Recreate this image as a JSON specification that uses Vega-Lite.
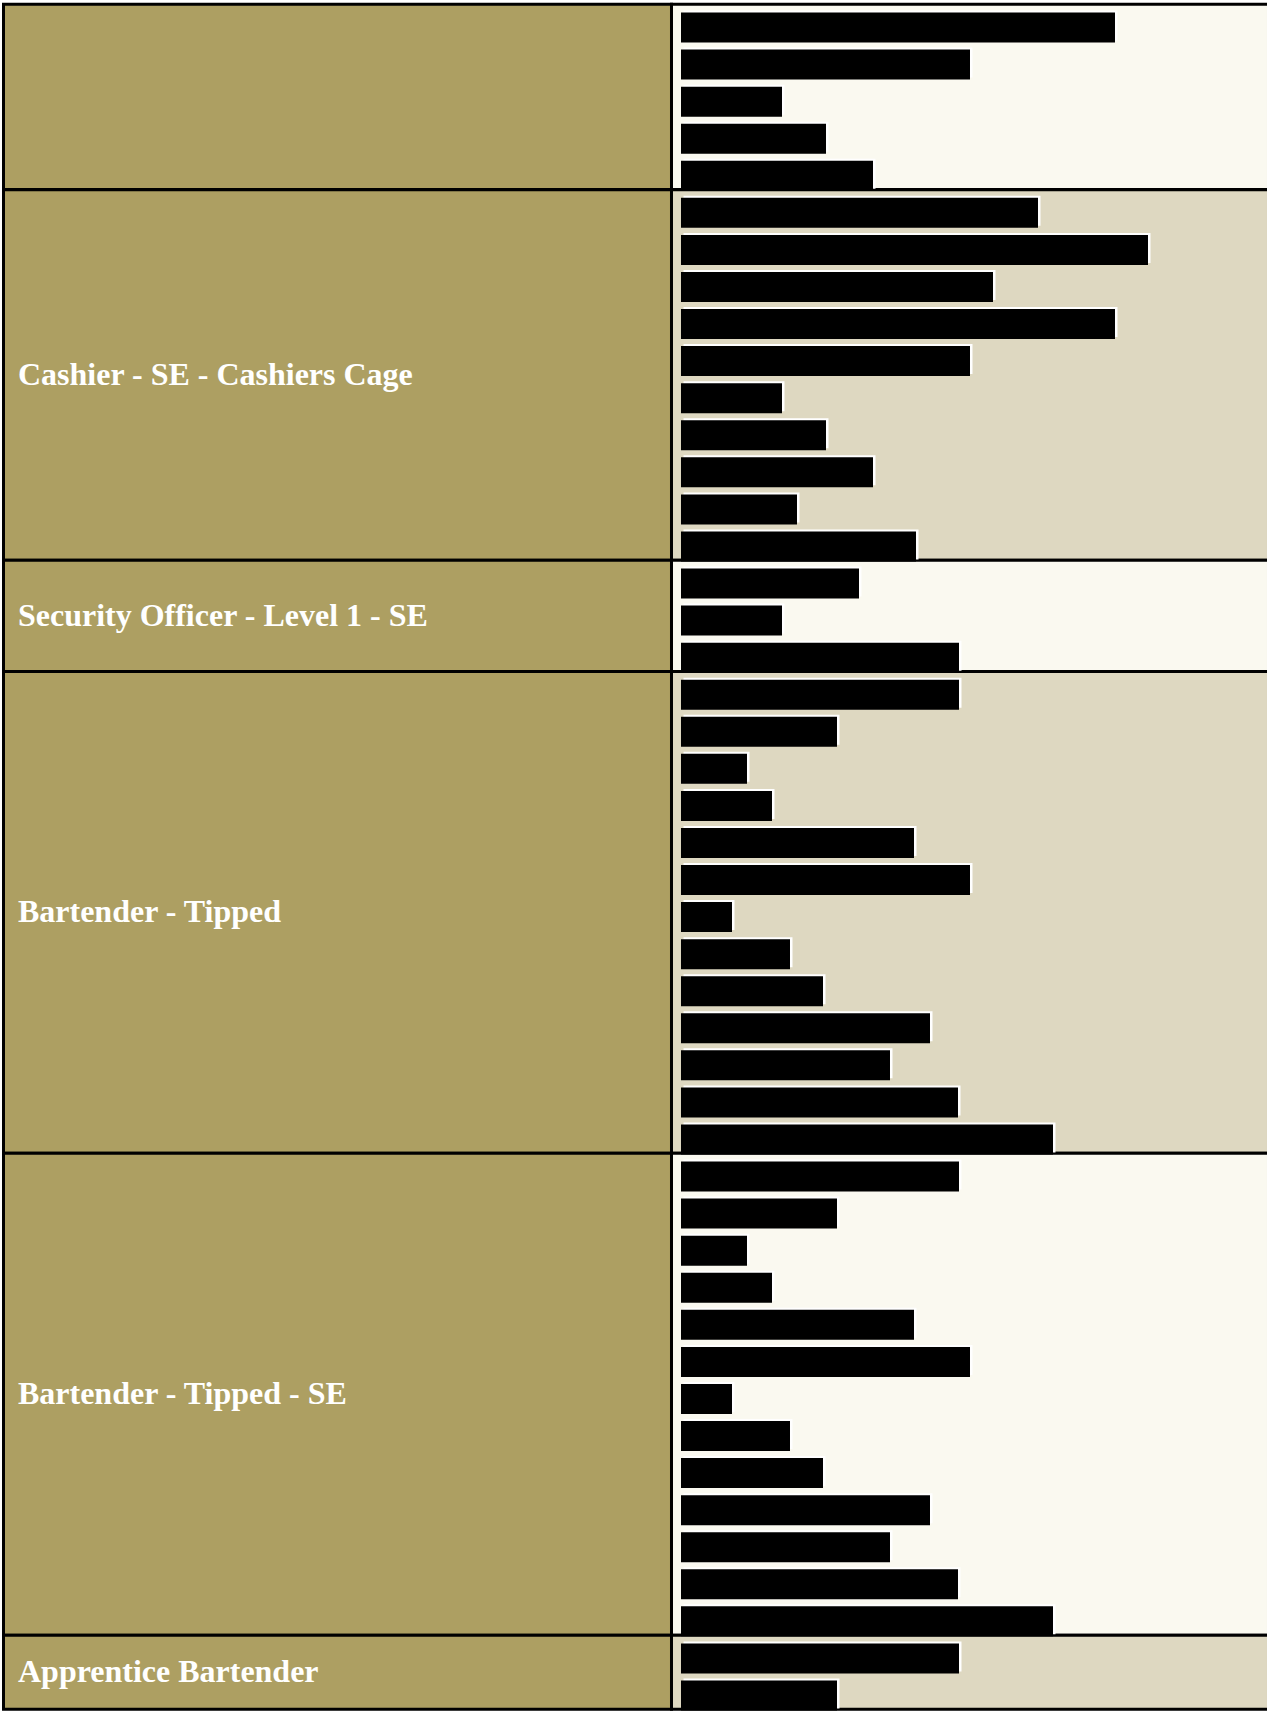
{
  "$schema": "https://vega.github.io/schema/vega-lite/v6.json",
  "padding": {"left": 1.5, "top": 2.3, "right": 0, "bottom": 0},
  "spacing": 0,
  "bounds": "flush",
  "background": "white",
  "data": {
    "values": [
      {"group": "", "row": 0, "value": 434},
      {"group": "", "row": 1, "value": 289},
      {"group": "", "row": 2, "value": 101},
      {"group": "", "row": 3, "value": 145},
      {"group": "", "row": 4, "value": 192},
      {"group": "Cashier - SE - Cashiers Cage", "row": 5, "value": 357},
      {"group": "Cashier - SE - Cashiers Cage", "row": 6, "value": 467},
      {"group": "Cashier - SE - Cashiers Cage", "row": 7, "value": 312},
      {"group": "Cashier - SE - Cashiers Cage", "row": 8, "value": 434},
      {"group": "Cashier - SE - Cashiers Cage", "row": 9, "value": 289},
      {"group": "Cashier - SE - Cashiers Cage", "row": 10, "value": 101},
      {"group": "Cashier - SE - Cashiers Cage", "row": 11, "value": 145},
      {"group": "Cashier - SE - Cashiers Cage", "row": 12, "value": 192},
      {"group": "Cashier - SE - Cashiers Cage", "row": 13, "value": 116},
      {"group": "Cashier - SE - Cashiers Cage", "row": 14, "value": 235},
      {"group": "Security Officer - Level 1 - SE", "row": 15, "value": 178},
      {"group": "Security Officer - Level 1 - SE", "row": 16, "value": 101},
      {"group": "Security Officer - Level 1 - SE", "row": 17, "value": 278},
      {"group": "Bartender - Tipped", "row": 18, "value": 278},
      {"group": "Bartender - Tipped", "row": 19, "value": 156},
      {"group": "Bartender - Tipped", "row": 20, "value": 66},
      {"group": "Bartender - Tipped", "row": 21, "value": 91},
      {"group": "Bartender - Tipped", "row": 22, "value": 233},
      {"group": "Bartender - Tipped", "row": 23, "value": 289},
      {"group": "Bartender - Tipped", "row": 24, "value": 51},
      {"group": "Bartender - Tipped", "row": 25, "value": 109},
      {"group": "Bartender - Tipped", "row": 26, "value": 142},
      {"group": "Bartender - Tipped", "row": 27, "value": 249},
      {"group": "Bartender - Tipped", "row": 28, "value": 209},
      {"group": "Bartender - Tipped", "row": 29, "value": 277},
      {"group": "Bartender - Tipped", "row": 30, "value": 372},
      {"group": "Bartender - Tipped - SE", "row": 31, "value": 278},
      {"group": "Bartender - Tipped - SE", "row": 32, "value": 156},
      {"group": "Bartender - Tipped - SE", "row": 33, "value": 66},
      {"group": "Bartender - Tipped - SE", "row": 34, "value": 91},
      {"group": "Bartender - Tipped - SE", "row": 35, "value": 233},
      {"group": "Bartender - Tipped - SE", "row": 36, "value": 289},
      {"group": "Bartender - Tipped - SE", "row": 37, "value": 51},
      {"group": "Bartender - Tipped - SE", "row": 38, "value": 109},
      {"group": "Bartender - Tipped - SE", "row": 39, "value": 142},
      {"group": "Bartender - Tipped - SE", "row": 40, "value": 249},
      {"group": "Bartender - Tipped - SE", "row": 41, "value": 209},
      {"group": "Bartender - Tipped - SE", "row": 42, "value": 277},
      {"group": "Bartender - Tipped - SE", "row": 43, "value": 372},
      {"group": "Apprentice Bartender", "row": 44, "value": 278},
      {"group": "Apprentice Bartender", "row": 45, "value": 156}
    ]
  },
  "hconcat": [
    {
      "width": 668,
      "height": 1705,
      "layer": [
        {
          "mark": {"type": "rect", "fill": "#AD9F62", "stroke": "black", "strokeWidth": 3, "yOffset": -18.53, "y2Offset": 18.53},
          "encoding": {
            "x": {"value": 0},
            "x2": {"value": "width"},
            "y": {"aggregate": "min", "field": "row", "type": "quantitative", "scale": {"domain": [-0.5, 45.5], "reverse": true, "nice": false, "zero": false, "padding": 0}, "axis": null},
            "y2": {"aggregate": "max", "field": "row"},
            "detail": {"field": "group", "type": "nominal"}
          }
        },
        {
          "mark": {"type": "text", "align": "left", "baseline": "middle", "font": "Liberation Serif", "fontWeight": "bold", "fontSize": 32, "color": "white"},
          "encoding": {
            "x": {"value": 14.5},
            "y": {"aggregate": "mean", "field": "row", "type": "quantitative", "scale": {"domain": [-0.5, 45.5], "reverse": true, "nice": false, "zero": false, "padding": 0}, "axis": null},
            "text": {"field": "group", "type": "nominal"}
          }
        }
      ]
    },
    {
      "width": 597,
      "height": 1705,
      "layer": [
        {
          "mark": {"type": "rect", "stroke": "black", "strokeWidth": 3, "yOffset": -18.53, "y2Offset": 18.53},
          "encoding": {
            "x": {"value": 0},
            "x2": {"value": "width"},
            "y": {"aggregate": "min", "field": "row", "type": "quantitative", "scale": {"domain": [-0.5, 45.5], "reverse": true, "nice": false, "zero": false, "padding": 0}, "axis": null},
            "y2": {"aggregate": "max", "field": "row"},
            "color": {
              "field": "group",
              "type": "nominal",
              "legend": null,
              "scale": {
                "domain": ["", "Cashier - SE - Cashiers Cage", "Security Officer - Level 1 - SE", "Bartender - Tipped", "Bartender - Tipped - SE", "Apprentice Bartender"],
                "range": ["#FAF9F0", "#DED8C1", "#FAF9F0", "#DED8C1", "#FAF9F0", "#DED8C1"]
              }
            }
          }
        },
        {
          "mark": {"type": "bar", "orient": "horizontal", "height": 30, "xOffset": 2.5, "yOffset": 2.7, "fill": "white"},
          "encoding": {
            "x": {"field": "value", "type": "quantitative", "scale": {"domain": [-9.5, 587.5], "nice": false, "zero": false, "padding": 0}, "axis": null},
            "y": {"field": "row", "type": "quantitative", "scale": {"domain": [-0.5, 45.5], "reverse": true, "nice": false, "zero": false, "padding": 0}, "axis": null}
          }
        },
        {
          "mark": {"type": "bar", "orient": "horizontal", "height": 30, "yOffset": 4.7, "fill": "black"},
          "encoding": {
            "x": {"field": "value", "type": "quantitative", "scale": {"domain": [-9.5, 587.5], "nice": false, "zero": false, "padding": 0}, "axis": null},
            "y": {"field": "row", "type": "quantitative", "scale": {"domain": [-0.5, 45.5], "reverse": true, "nice": false, "zero": false, "padding": 0}, "axis": null}
          }
        }
      ]
    }
  ],
  "config": {
    "view": {"stroke": null},
    "concat": {"spacing": 0}
  }
}
